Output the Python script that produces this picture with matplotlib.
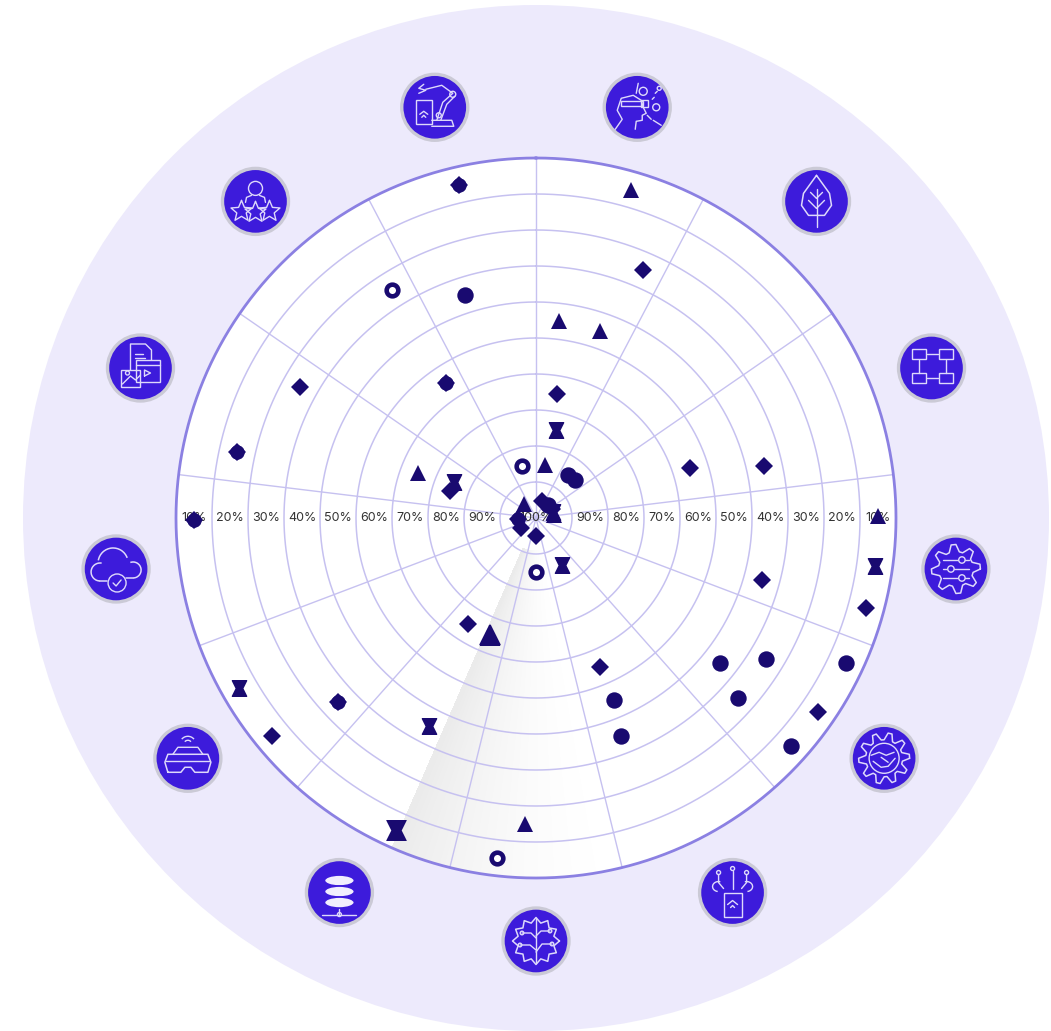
import numpy as np
import matplotlib
matplotlib.use('Agg')
from matplotlib import pyplot as plt
from matplotlib.colors import LinearSegmentedColormap
from matplotlib.patches import Circle, Rectangle, Ellipse, Arc
from matplotlib.path import Path

plt.rcParams['font.family'] = ['Inter', 'DejaVu Sans']

# angle in degrees clockwise from north, value in percent (100% = centre)
tri_theta = [16.2, 6.7, 18.8, 9.6, 89.7, 290.9, 319.4, 182.1, 80]
tri_pct = [10, 50, 50, 90, 10, 70, 100, 20, 100]
diamond_theta = [23.3, 9.5, 71.9, 77.2, 105.4, 105.3, 124.6, 156.6, 180, 212.7, 230.4, 287.4, 299, 18, 60, 238, 41]
diamond_pct = [30, 70, 60, 40, 40, 10, 10, 60, 100, 70, 10, 80, 30, 100, 100, 100, 90]
circle_theta = [342.3, 128.2, 121.6, 115, 131.7, 131.8, 156.7, 158.7, 43, 36.7, 45.7]
circle_pct = [40, 40, 30, 10, 30, 10, 50, 40, 100, 90, 90]
clover_theta = [347, 326.3, 282.4, 269.7, 227.1, 267]
clover_pct = [10, 60, 20, 10, 30, 100]
ring_theta = [327.8, 345.2, 180, 186.6]
ring_pct = [30, 90, 90, 10]
hourglass_theta = [12.8, 293.7, 98.1, 151, 240.2, 207.2, 72]
hourglass_pct = [80, 80, 10, 90, 10, 40, 100]
big_tri_theta = [201.5]
big_tri_pct = [70]
big_hourglass_theta = [204.1]
big_hourglass_pct = [10]

tick_pct = [10, 20, 30, 40, 50, 60, 70, 80, 90]
n_sectors = 13

NAVY = '#190a70'
GRID = '#c6c1f0'
ICON = '#3d1bdb'
LINE = '#ded9fb'

hourglass = Path([(-1, 1), (1, 1), (0.5, 0), (1, -1), (-1, -1), (-0.5, 0), (-1, 1)], closed=True)


def r_of(pct):
    return 105 - np.array(pct, dtype=float)


fig = plt.figure(figsize=(10.51, 10.31), dpi=100)
fig.patch.set_facecolor('white')
ax = fig.add_axes([23 / 1051, 0, 1026 / 1051, 1026 / 1031], projection='polar')
ax.set_theta_zero_location('N')
ax.set_theta_direction(-1)
ax.set_facecolor('#edeafc')
ax.grid(False)
ax.set_xticks([])
ax.set_yticks([])
ax.spines['polar'].set_visible(False)

full = np.linspace(0, 2 * np.pi, 721)
ax.fill(full, np.full(721, 100.0), color='white', zorder=1, lw=0)

# grey sweep fading away from its hard edge
sweep_t = np.radians(np.linspace(165, 203.5, 80))
sweep_r = np.array([9, 100])
shade = np.tile(np.linspace(0, 1, 79) ** 1.8, (1, 1))
cmap = LinearSegmentedColormap.from_list('sweep', ['#ffffff', '#ebebeb'])
ax.pcolormesh(sweep_t, sweep_r, shade, cmap=cmap, zorder=2, shading='flat', antialiased=False, linewidth=0)

for r in range(10, 100, 10):
    ax.plot(full, np.full(721, r), color=GRID, lw=1.1, zorder=3)
for k in range(n_sectors):
    t = k * 2 * np.pi / n_sectors
    ax.plot([t, t], [0, 100], color=GRID, lw=1.0, zorder=3)
ax.plot(full, np.full(721, 100.0), color='#8b80e2', lw=2, zorder=3)

for p in tick_pct:
    ax.text(np.pi / 2, r_of(p), '%d%%' % p, color='#333333', fontsize=9, ha='center', va='center', zorder=4)
    ax.text(3 * np.pi / 2, r_of(p), '%d%%' % p, color='#333333', fontsize=9, ha='center', va='center', zorder=4)
ax.text(0, 0, '100%', color='#333333', fontsize=9, ha='center', va='center', zorder=4)


def marks(theta, pct, marker, size, **kw):
    ax.plot(np.radians(theta), r_of(pct), ls='none', marker=marker, ms=size, color=NAVY, mec=NAVY, zorder=5, **kw)


marks(tri_theta, tri_pct, '^', 11.5, mew=0)
marks(diamond_theta, diamond_pct, 'D', 9.4, mew=0)
marks(circle_theta, circle_pct, 'o', 11.8, mew=0)
marks(clover_theta, clover_pct, 'o', 10.4, mew=0)
marks(clover_theta, clover_pct, 'D', 9.4, mew=0)
marks(hourglass_theta, hourglass_pct, hourglass, 11.5, mew=0)
marks(big_hourglass_theta, big_hourglass_pct, hourglass, 15, mew=0)
marks(big_tri_theta, big_tri_pct, '^', 15, mew=1.2)
ax.plot(np.radians(ring_theta), r_of(ring_pct), ls='none', marker='o', ms=8.4, mfc='white', mec=NAVY, mew=3.3, zorder=5)
ax.set_rlim(0, 142.5)


# icons: each one its own small axes, units are pixels around the icon centre
def L(a, pts, lw=1.0):
    xs, ys = zip(*pts)
    a.plot(xs, ys, color=LINE, lw=lw, solid_capstyle='round', solid_joinstyle='round')


def R(a, x, y, w, h):
    a.add_patch(Rectangle((x, y), w, h, fill=False, ec=LINE, lw=1.0))


def C(a, x, y, r):
    a.add_patch(Circle((x, y), r, fill=False, ec=LINE, lw=1.0))


def gear(a, rad, teeth):
    t = np.linspace(0, 2 * np.pi, teeth * 4 + 1)
    rr = rad + 3.5 * np.array([1, 1, -1, -1] * teeth + [1])
    L(a, list(zip(rr * np.cos(t), rr * np.sin(t))), 1.1)


def star(a, x, y, s):
    t = np.pi / 2 + np.arange(11) * np.pi / 5
    rr = s * np.array([1, 0.45] * 5 + [1])
    L(a, list(zip(x + rr * np.cos(t), y + rr * np.sin(t))))


def icon_head(a):
    L(a, [(-22, -22), (-15, -12), (-20, -3), (-16, 9), (-4, 12), (4, 7), (6, 0), (9, -6), (5, -8), (5, -13), (-1, -14), (-2, -22)])
    R(a, -16, 1, 22, 5)
    C(a, 6, 16, 4)
    R(a, 4, 0, 7, 7)
    C(a, 19, 0, 3.5)
    C(a, 22, 19, 2)
    L(a, [(-1, 14), (1, 24)])
    L(a, [(10, -8), (14, -12)])
    L(a, [(16, -13), (24, -18)])
    L(a, [(15, 8), (17, 10)])
    L(a, [(18, 14), (20, 16)])


def icon_leaf(a):
    L(a, [(0, 26), (-13, 8), (-15, -4), (-8, -14), (8, -14), (15, -4), (13, 8), (0, 26)], 1.1)
    L(a, [(0, -26), (0, 12)])
    L(a, [(0, -7), (8, 1)])
    L(a, [(0, -7), (-8, 1)])
    L(a, [(0, 3), (6, 9)])
    L(a, [(0, 3), (-6, 9)])


def icon_network(a):
    for x, y in [(-20, 9), (7, 9), (-20, -15), (7, -15)]:
        R(a, x, y, 14, 10)
    L(a, [(-5, 14), (6, 14)])
    L(a, [(-5, -10), (6, -10)])
    L(a, [(-13, 8), (-13, -5)])
    L(a, [(14, 8), (14, -5)])


def icon_sliders(a):
    gear(a, 21, 8)
    for y, x in [(9, 6), (0, -5), (-9, 6)]:
        L(a, [(-13, y), (13, y)])
        a.add_patch(Circle((x, y), 3.2, fc=ICON, ec=LINE, lw=1.0, zorder=3))


def icon_shake(a):
    gear(a, 22, 10)
    C(a, 0, 0, 15)
    L(a, [(-13, 3), (-5, 6), (2, 3), (10, 6)])
    L(a, [(-11, -3), (-3, -9), (4, -8), (11, 0)])
    L(a, [(-3, 1), (4, -4)])


def icon_iot(a):
    R(a, -9, -24, 18, 24)
    L(a, [(-5, -12), (0, -8), (5, -12)])
    L(a, [(-2, -15), (0, -13), (2, -15)])
    for x, y in [(-14, 20), (0, 24), (14, 20)]:
        C(a, x, y, 2)
    L(a, [(-14, 18), (-14, 10), (-9, 4)])
    L(a, [(0, 22), (0, 4)])
    L(a, [(14, 18), (14, 10), (9, 4)])
    a.add_patch(Arc((-14, 6), 12, 10, theta1=70, theta2=260, ec=LINE, lw=1))
    a.add_patch(Arc((14, 6), 12, 10, theta1=-80, theta2=110, ec=LINE, lw=1))


def icon_brain(a):
    t = np.linspace(0, 2 * np.pi, 25)
    rr = 21 + 2.5 * np.array([1, -1] * 12 + [1])
    L(a, list(zip(rr * np.cos(t), rr * np.sin(t))), 1.1)
    L(a, [(0, 22), (0, -22)])
    L(a, [(-14, 8), (-5, 8), (0, 3)])
    L(a, [(-16, -4), (-6, -4), (0, -9)])
    L(a, [(14, 10), (5, 10), (0, 5)])
    L(a, [(16, -3), (6, -3), (0, -11)])
    for x, y in [(-14, 8), (-16, -4), (14, 10), (16, -3)]:
        C(a, x, y, 1.8)


def icon_database(a):
    for y in [12, 1, -10]:
        a.add_patch(Ellipse((0, y), 30, 11, fc='#f1eefe', ec=ICON, lw=1.2))
    L(a, [(0, -16), (0, -22)])
    L(a, [(-17, -22), (17, -22)])
    C(a, 0, -22, 2)


def icon_vr(a):
    L(a, [(-20, -14), (-23, -4), (-20, 4), (20, 4), (23, -4), (20, -14), (7, -14), (3, -9), (-3, -9), (-7, -14), (-20, -14)], 1.1)
    L(a, [(-15, 4), (-10, 11), (10, 11), (15, 4)])
    L(a, [(-22, -3), (22, -3)])
    a.add_patch(Arc((0, 14), 8, 8, theta1=40, theta2=140, ec=LINE, lw=1))
    a.add_patch(Arc((0, 14), 16, 16, theta1=40, theta2=140, ec=LINE, lw=1))


def icon_cloud(a):
    a.add_patch(Arc((-3, 6), 30, 30, theta1=20, theta2=170, ec=LINE, lw=1.1))
    a.add_patch(Arc((-16, -3), 18, 18, theta1=80, theta2=270, ec=LINE, lw=1.1))
    a.add_patch(Arc((17, -1), 16, 16, theta1=-90, theta2=110, ec=LINE, lw=1.1))
    L(a, [(-16, -12), (-9, -12)], 1.1)
    L(a, [(10, -9), (17, -9)], 1.1)
    C(a, 1, -14, 9)
    L(a, [(-3, -14), (0, -17), (5, -11)])


def icon_docs(a):
    L(a, [(-10, -2), (-10, 24), (5, 24), (11, 18), (11, 8)])
    L(a, [(-5, 14), (3, 14)])
    L(a, [(-5, 10), (5, 10)])
    R(a, -19, -19, 19, 17)
    L(a, [(-18, -16), (-10, -8), (-5, -12), (0, -7)])
    C(a, -13, -5, 2)
    R(a, -4, -14, 24, 22)
    L(a, [(-4, 3), (20, 3)])
    L(a, [(4, -8), (4, -2), (10, -5), (4, -8)])


def icon_stars(a):
    C(a, 0, 13, 7)
    L(a, [(-10, -1), (-9, 4), (-4, 6)])
    L(a, [(10, -1), (9, 4), (4, 6)])
    star(a, -14, -10, 11)
    star(a, 0, -11, 11)
    star(a, 14, -10, 11)


def icon_robot(a):
    R(a, -19, -17, 16, 24)
    L(a, [(-15, -7), (-11, -4), (-7, -7)])
    L(a, [(-13, -10), (-11, -8), (-9, -10)])
    L(a, [(-3, -13), (17, -13), (19, -19), (-3, -19)])
    L(a, [(2, -13), (8, 5), (18, 14), (7, 22), (-9, 18)])
    L(a, [(6, -13), (12, 3), (20, 11)])
    C(a, 4, -8, 2.5)
    C(a, 18, 13, 3)
    L(a, [(-11, 23), (-16, 19), (-9, 17), (-16, 14)])


icons = [icon_head, icon_leaf, icon_network, icon_sliders, icon_shake, icon_iot, icon_brain,
         icon_database, icon_vr, icon_cloud, icon_docs, icon_stars, icon_robot]
for k, draw in enumerate(icons):
    th = (k + 0.5) * 2 * np.pi / n_sectors
    cx = 536 + 423 * np.sin(th)
    cy = 513 + 423 * np.cos(th)
    a = fig.add_axes([(cx - 37) / 1051, (cy - 37) / 1031, 74 / 1051, 74 / 1031])
    a.set_xlim(-37, 37)
    a.set_ylim(-37, 37)
    a.axis('off')
    a.patch.set_alpha(0)
    a.add_patch(Circle((0, 0), 33, fc=ICON, ec='#cbcad6', lw=2.4))
    draw(a)

fig.savefig('out.png', dpi=100)
